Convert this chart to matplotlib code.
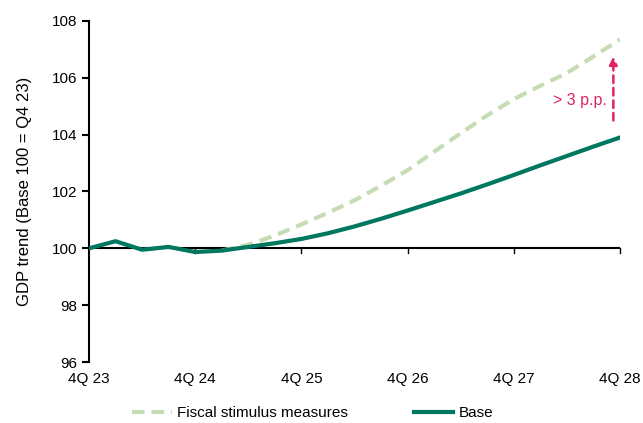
import numpy as np
import matplotlib.pyplot as plt

# quarterly index, 4Q 23 = 100
quarters = np.arange(21)
base = [100.0, 100.25, 99.95, 100.05, 99.87, 99.92, 100.05, 100.18, 100.33,
        100.53, 100.77, 101.04, 101.33, 101.63, 101.93, 102.25, 102.58,
        102.92, 103.25, 103.58, 103.9]
fiscal_q = np.arange(5, 21)
fiscal = [99.92, 100.13, 100.45, 100.84, 101.25, 101.69, 102.2, 102.75,
          103.4, 104.05, 104.68, 105.25, 105.72, 106.17, 106.75, 107.35]
tick_q = [0, 4, 8, 12, 16, 20]
tick_labels = ["4Q 23", "4Q 24", "4Q 25", "4Q 26", "4Q 27", "4Q 28"]

plt.rcParams['font.family'] = ['Liberation Sans', 'DejaVu Sans']
teal = "#00775F"
light = "#C6DDB4"
red = "#E0245E"

fig = plt.figure(figsize=(6.43, 4.23), dpi=100)
ax = fig.add_axes([0.1384, 0.1442, 0.8258, 0.8062])

ax.plot(fiscal_q, fiscal, color=light, lw=3, ls=(0, (3, 1.7)),
        label="Fiscal stimulus measures", zorder=3)
ax.plot(quarters, base, color=teal, lw=3, label="Base", zorder=4)

# baseline at 100 with its own tick marks
ax.axhline(100, color="black", lw=1.5, zorder=2)
for q in tick_q[1:]:
    ax.plot([q, q], [100, 99.85], color="black", lw=1, zorder=2, clip_on=False)

# gap annotation
ax.annotate("", xy=(19.75, 106.75), xytext=(19.75, 104.5),
            arrowprops=dict(arrowstyle="-|>", color=red, lw=1.8, ls=(0, (3, 2)),
                            mutation_scale=12, shrinkA=0, shrinkB=0))
ax.text(19.5, 105.2, "> 3 p.p.", color=red, fontsize=11.5, ha="right", va="center")

ax.set_xlim(0, 20)
ax.set_ylim(96, 108)
ax.set_yticks(range(96, 109, 2))
ax.set_xticks(tick_q)
ax.set_xticklabels(tick_labels)
ax.tick_params(axis="x", length=0, pad=7, labelsize=11)
ax.tick_params(axis="y", length=5, width=1.5, direction="out", labelsize=11)
for s in ["top", "right", "bottom"]:
    ax.spines[s].set_visible(False)
ax.spines["left"].set_linewidth(1.5)
ax.set_ylabel("GDP trend (Base 100 = Q4 23)", fontsize=12, labelpad=14)

fig.legend(*ax.get_legend_handles_labels(), loc="center left",
           bbox_to_anchor=(132 / 643, 1 - 413 / 423), ncol=2, frameon=False,
           fontsize=11, handlelength=2.6, columnspacing=4.3, handletextpad=0.35,
           borderpad=0, borderaxespad=0)

fig.savefig("out.png", dpi=100)
